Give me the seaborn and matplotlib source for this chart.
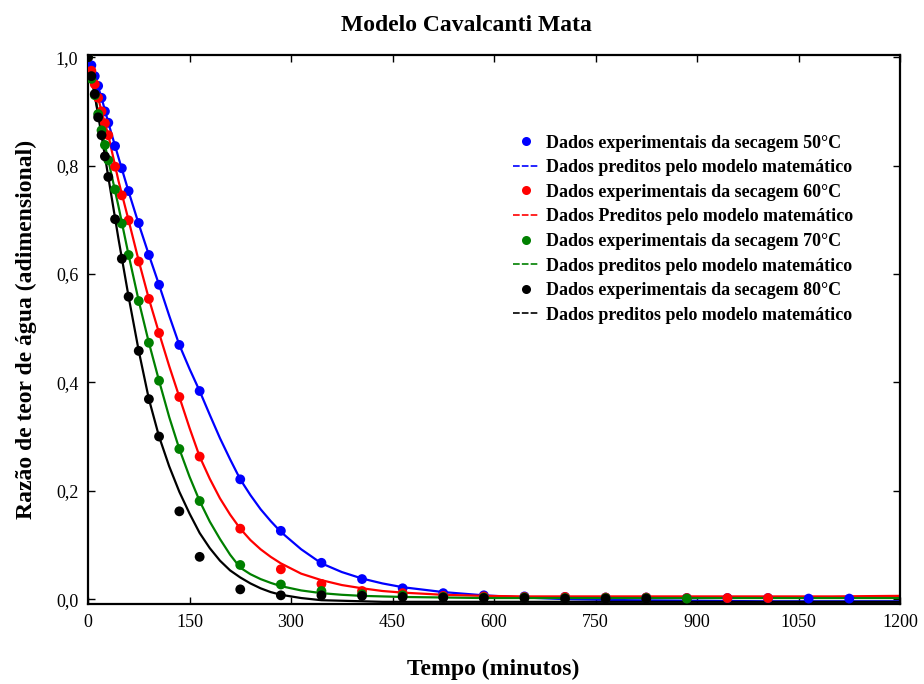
import matplotlib
matplotlib.use("Agg")
import matplotlib.pyplot as plt
from matplotlib.lines import Line2D
from matplotlib.ticker import FuncFormatter
import seaborn as sns
import pandas as pd

# ---------------- data ----------------
series_names = ["50°C", "60°C", "70°C", "80°C"]
series_colors = ["#0000ff", "#ff0000", "#008000", "#000000"]

t_exp_50 = [0, 5, 10, 15, 20, 25, 30, 40, 50, 60, 75, 90, 105, 135, 165, 225, 285, 345, 405,
            465, 525, 585, 645, 705, 765, 825, 885, 945, 1005, 1065, 1125]
mr_exp_50 = [1.0, 0.985, 0.965, 0.947, 0.925, 0.900, 0.879, 0.836, 0.795, 0.753, 0.694, 0.635,
             0.580, 0.469, 0.384, 0.221, 0.126, 0.067, 0.037, 0.020, 0.011, 0.007, 0.005, 0.004,
             0.003, 0.003, 0.002, 0.002, 0.002, 0.001, 0.001]

t_exp_60 = [0, 5, 10, 15, 20, 25, 30, 40, 50, 60, 75, 90, 105, 135, 165, 225, 285, 345, 405,
            465, 525, 585, 645, 705, 765, 825, 885, 945, 1005]
mr_exp_60 = [1.0, 0.975, 0.950, 0.925, 0.900, 0.878, 0.856, 0.798, 0.745, 0.699, 0.623, 0.554,
             0.491, 0.373, 0.263, 0.130, 0.055, 0.028, 0.015, 0.011, 0.006, 0.005, 0.004, 0.004,
             0.003, 0.003, 0.002, 0.002, 0.002]

t_exp_70 = [0, 5, 10, 15, 20, 25, 30, 40, 50, 60, 75, 90, 105, 135, 165, 225, 285, 345, 405,
            465, 525, 585, 645, 705, 765, 825, 885]
mr_exp_70 = [1.0, 0.960, 0.930, 0.895, 0.865, 0.838, 0.810, 0.756, 0.693, 0.635, 0.550, 0.473,
             0.403, 0.277, 0.181, 0.063, 0.027, 0.015, 0.009, 0.007, 0.004, 0.003, 0.003, 0.002,
             0.002, 0.002, 0.001]

t_exp_80 = [0, 5, 10, 15, 20, 25, 30, 40, 50, 60, 75, 90, 105, 135, 165, 225, 285, 345, 405,
            465, 525, 585, 645, 705, 765, 825]
mr_exp_80 = [1.0, 0.965, 0.932, 0.889, 0.856, 0.817, 0.779, 0.701, 0.628, 0.558, 0.458, 0.369,
             0.300, 0.162, 0.078, 0.018, 0.007, 0.007, 0.006, 0.004, 0.003, 0.002, 0.002, 0.001,
             0.001, 0.001]

# predicted (model) curves
t_model = [0, 10, 20, 30, 45, 60, 75, 90, 105, 120, 135, 150, 165, 180, 195, 210, 225, 240,
           255, 270, 285, 315, 345, 375, 405, 435, 465, 525, 585, 645, 705, 800, 900, 1000,
           1100, 1200]
mr_mod_50 = [1.0, 0.965, 0.925, 0.879, 0.815, 0.752, 0.692, 0.635, 0.580, 0.523, 0.469, 0.425,
             0.384, 0.340, 0.297, 0.258, 0.221, 0.192, 0.166, 0.144, 0.124, 0.092, 0.066, 0.050,
             0.038, 0.029, 0.022, 0.013, 0.007, 0.003, 0.000, -0.002, -0.003, -0.004, -0.004,
             -0.004]
mr_mod_60 = [1.0, 0.950, 0.900, 0.856, 0.772, 0.699, 0.624, 0.554, 0.491, 0.430, 0.373, 0.316,
             0.263, 0.222, 0.186, 0.156, 0.130, 0.109, 0.092, 0.078, 0.066, 0.047, 0.035, 0.026,
             0.020, 0.015, 0.012, 0.008, 0.006, 0.005, 0.005, 0.005, 0.005, 0.005, 0.005, 0.006]
mr_mod_70 = [1.0, 0.930, 0.865, 0.810, 0.725, 0.635, 0.550, 0.473, 0.403, 0.336, 0.277, 0.226,
             0.181, 0.143, 0.111, 0.082, 0.058, 0.046, 0.037, 0.030, 0.024, 0.016, 0.011, 0.008,
             0.006, 0.005, 0.004, 0.003, 0.002, 0.002, 0.002, 0.002, 0.002, 0.002, 0.002, 0.002]
mr_mod_80 = [1.0, 0.930, 0.856, 0.779, 0.665, 0.558, 0.458, 0.369, 0.300, 0.245, 0.198, 0.158,
             0.122, 0.094, 0.071, 0.053, 0.040, 0.029, 0.020, 0.013, 0.008, 0.002, -0.002, -0.003,
             -0.004, -0.005, -0.005, -0.005, -0.005, -0.005, -0.005, -0.005, -0.005, -0.005,
             -0.005, -0.005]

legend_labels = [
    "Dados experimentais da secagem 50°C",
    "Dados preditos pelo modelo matemático",
    "Dados experimentais da secagem 60°C",
    "Dados Preditos pelo modelo matemático",
    "Dados experimentais da secagem 70°C",
    "Dados preditos pelo modelo matemático",
    "Dados experimentais da secagem 80°C",
    "Dados preditos pelo modelo matemático",
]
x_ticks = [0, 150, 300, 450, 600, 750, 900, 1050, 1200]
y_ticks = [0.0, 0.2, 0.4, 0.6, 0.8, 1.0]

# ---------------- tables ----------------
exp_t = [t_exp_50, t_exp_60, t_exp_70, t_exp_80]
exp_v = [mr_exp_50, mr_exp_60, mr_exp_70, mr_exp_80]
mod_v = [mr_mod_50, mr_mod_60, mr_mod_70, mr_mod_80]

df_exp = pd.concat([pd.DataFrame({"t": t, "mr": v, "serie": n})
                    for t, v, n in zip(exp_t, exp_v, series_names)], ignore_index=True)
df_mod = pd.concat([pd.DataFrame({"t": t_model, "mr": v, "serie": n})
                    for v, n in zip(mod_v, series_names)], ignore_index=True)
palette = dict(zip(series_names, series_colors))

# ---------------- style ----------------
sns.set_style("ticks")
serif = ["Liberation Serif", "DejaVu Serif"]
plt.rcParams["font.family"] = serif
plt.rcParams["text.color"] = "black"
plt.rcParams["axes.labelcolor"] = "black"
plt.rcParams["xtick.color"] = "black"
plt.rcParams["ytick.color"] = "black"

fig = plt.figure(figsize=(9.24, 6.84), dpi=100)
ax = fig.add_axes([88 / 924, 1 - 604 / 684, 812 / 924, 549 / 684])

sns.lineplot(data=df_mod, x="t", y="mr", hue="serie", palette=palette, hue_order=series_names,
             linewidth=1.6, legend=False, estimator=None, sort=True, ax=ax, zorder=2)
sns.scatterplot(data=df_exp, x="t", y="mr", hue="serie", palette=palette, hue_order=series_names,
                s=50, linewidth=0, legend=False, ax=ax, zorder=3)

ax.set_xlim(0, 1200)
ax.set_ylim(-0.009, 1.004)
ax.set_xticks(x_ticks)
ax.set_yticks(y_ticks)
ax.yaxis.set_major_formatter(FuncFormatter(lambda v, p: f"{v:.1f}".replace(".", ",")))
ax.xaxis.set_major_formatter(FuncFormatter(lambda v, p: f"{int(round(v))}"))
ax.tick_params(direction="in", top=True, right=True, length=5, width=1, labelsize=13,
               colors="black", labelcolor="black", pad=7)
for sp in ax.spines.values():
    sp.set_linewidth(1.6)
    sp.set_color("black")

ax.set_xlabel("Tempo (minutos)", fontsize=17, fontweight="bold", color="black")
ax.set_ylabel("Razão de teor de água (adimensional)", fontsize=17, fontweight="bold",
              color="black")
ax.xaxis.set_label_coords(0.499, -0.10)
ax.yaxis.set_label_coords(-0.063, 0.5)

fig.text(0.505, 0.962, "Modelo Cavalcanti Mata", ha="center", va="center",
         fontsize=17, fontweight="bold", color="black")

handles = []
for c in series_colors:
    handles.append(Line2D([], [], color=c, marker="o", linestyle="none", markersize=6.5,
                          markeredgewidth=0))
    handles.append(Line2D([], [], color=c, linestyle=(0, (4, 1.3)), linewidth=1.2))
leg = ax.legend(handles, legend_labels, loc="upper left", bbox_to_anchor=(0.523, 0.855),
                frameon=False, prop={"family": serif, "weight": "bold", "size": 13},
                labelspacing=0.42, handlelength=1.45, handletextpad=0.4, borderpad=0,
                borderaxespad=0, labelcolor="black")

fig.savefig("out.png", dpi=100)
